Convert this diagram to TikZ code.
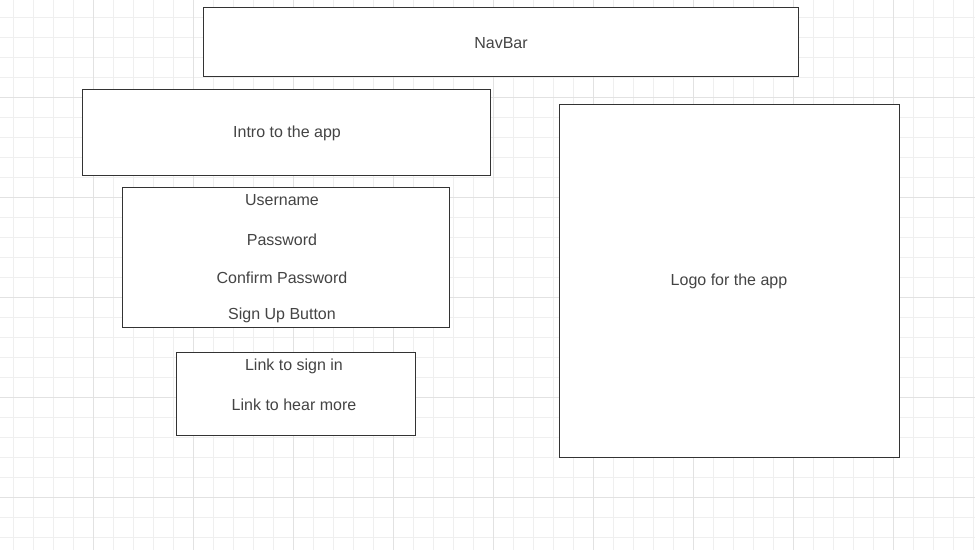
\documentclass[tikz,border=0pt]{standalone}
\usepackage{fontspec}
\setmainfont{Liberation Sans}
\definecolor{minorgrid}{HTML}{EFEFEF}
\definecolor{majorgrid}{HTML}{E2E2E2}
\definecolor{boxline}{HTML}{333333}
\definecolor{txt}{HTML}{444444}
\begin{document}
\begin{tikzpicture}[x=1pt,y=-1pt,
  box/.style={draw=boxline,line width=1pt,fill=white},
  lbl/.style={text=txt,font=\fontsize{16}{18}\selectfont,inner sep=0pt,anchor=center}]
\useasboundingbox (0,0) rectangle (975,550);
\fill[white] (0,0) rectangle (975,550);
% grid
\foreach \x in {13,33,...,973} \draw[minorgrid,line width=1pt] (\x,0) -- (\x,550);
\foreach \y in {17,37,...,549} \draw[minorgrid,line width=1pt] (0,\y) -- (975,\y);
\foreach \x in {93,193,...,893} \draw[majorgrid,line width=1pt] (\x,0) -- (\x,550);
\foreach \y in {97,197,...,497} \draw[majorgrid,line width=1pt] (0,\y) -- (975,\y);
% boxes
\draw[box] (203,7) rectangle (798,76);
\node[lbl] (navbar) at (501,43) {NavBar};
\draw[box] (82,89) rectangle (490,175);
\node[lbl] (intro) at (287,133.5) {Intro to the app};
\draw[box] (122,187) rectangle (449,327);
\node[lbl] (user) at (282,200.5) {Username};
\node[lbl] (pass) at (282,239.5) {Password};
\node[lbl] (conf) at (282,277.5) {Confirm Password};
\node[lbl] (signup) at (282,315.5) {Sign Up Button};
\draw[box] (176,352) rectangle (415,435);
\node[lbl] (signin) at (294,366.5) {Link to sign in};
\node[lbl] (hear) at (294,404.5) {Link to hear more};
\draw[box] (559,104) rectangle (899,457);
\node[lbl] (logo) at (729,281.5) {Logo for the app};
\end{tikzpicture}
\end{document}
